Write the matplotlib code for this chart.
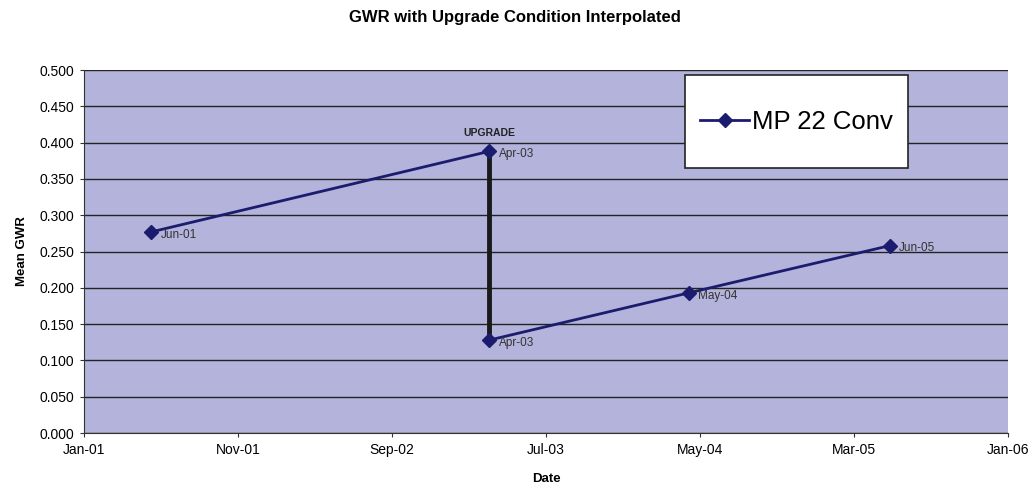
import pandas as pd
import matplotlib.pyplot as plt
from matplotlib.patches import Rectangle

# data
dates = pd.to_datetime(['2001-05-14', '2003-03-13', '2003-03-13', '2004-04-10', '2005-05-12'])
gwr = [0.277, 0.388, 0.128, 0.193, 0.258]
point_labels = ['Jun-01', 'Apr-03', 'Apr-03', 'May-04', 'Jun-05']
tick_labels = ['Jan-01', 'Nov-01', 'Sep-02', 'Jul-03', 'May-04', 'Mar-05', 'Jan-06']

plt.rcParams['font.family'] = ['Liberation Sans', 'DejaVu Sans']

fig = plt.figure(figsize=(10.30, 4.93), dpi=100)
ax = fig.add_axes([0.0816, 0.1217, 0.897, 0.7363])
ax.set_facecolor('#b3b3dc')

# upgrade jump drawn as a heavy vertical bar
ax.plot([dates[1], dates[2]], [gwr[1], gwr[2]], color='#1a1a1a', linewidth=3.5, zorder=2)
ax.text(dates[1], gwr[1] + 0.018, 'UPGRADE', fontsize=7.5, fontweight='bold',
        ha='center', va='bottom', color='#222222')

# line before and after upgrade
ax.plot(dates[:2], gwr[:2], color='#1c1c6e', linewidth=2, marker='D', markersize=7, zorder=3)
ax.plot(dates[2:], gwr[2:], color='#1c1c6e', linewidth=2, marker='D', markersize=7, zorder=3,
        label='MP 22 Conv')

for d, v, lab in zip(dates, gwr, point_labels):
    ax.annotate(lab, (d, v), xytext=(7, -2), textcoords='offset points',
                fontsize=8.5, va='center', ha='left', color='#333333')

start = pd.Timestamp('2001-01-01')
end = pd.Timestamp('2006-01-01')
step = (end - start) / 6
ticks = [start + step * i for i in range(7)]
ax.set_xlim(start, end)
ax.set_xticks(ticks)
ax.set_xticklabels(tick_labels, fontsize=10)

ax.set_ylim(0, 0.5)
ax.set_yticks([i * 0.05 for i in range(11)])
ax.set_yticklabels([f'{i * 0.05:.3f}' for i in range(11)], fontsize=10)
ax.yaxis.grid(True, color='#222222', linewidth=1)
ax.set_axisbelow(True)

for s in ['top', 'right']:
    ax.spines[s].set_visible(False)
ax.spines['left'].set_color('#333333')
ax.spines['bottom'].set_color('#333333')
ax.tick_params(length=3, color='#333333', pad=4)

ax.set_xlabel('Date', fontsize=9.5, fontweight='bold', labelpad=12)
ax.set_ylabel('Mean GWR', fontsize=9.5, fontweight='bold', labelpad=8)
fig.suptitle('GWR with Upgrade Condition Interpolated', fontsize=12, fontweight='bold', y=0.98)

# legend box
ax.add_patch(Rectangle((0.650, 0.730), 0.242, 0.256, transform=ax.transAxes,
                       facecolor='white', edgecolor='#222222', linewidth=1.2, zorder=5))
leg = ax.legend(loc='center', bbox_to_anchor=(0.771, 0.858), fontsize=18.5, frameon=False,
                handlelength=1.9, handletextpad=0.1, borderpad=0, borderaxespad=0)
leg.set_zorder(6)

plt.savefig('out.png', dpi=100)
